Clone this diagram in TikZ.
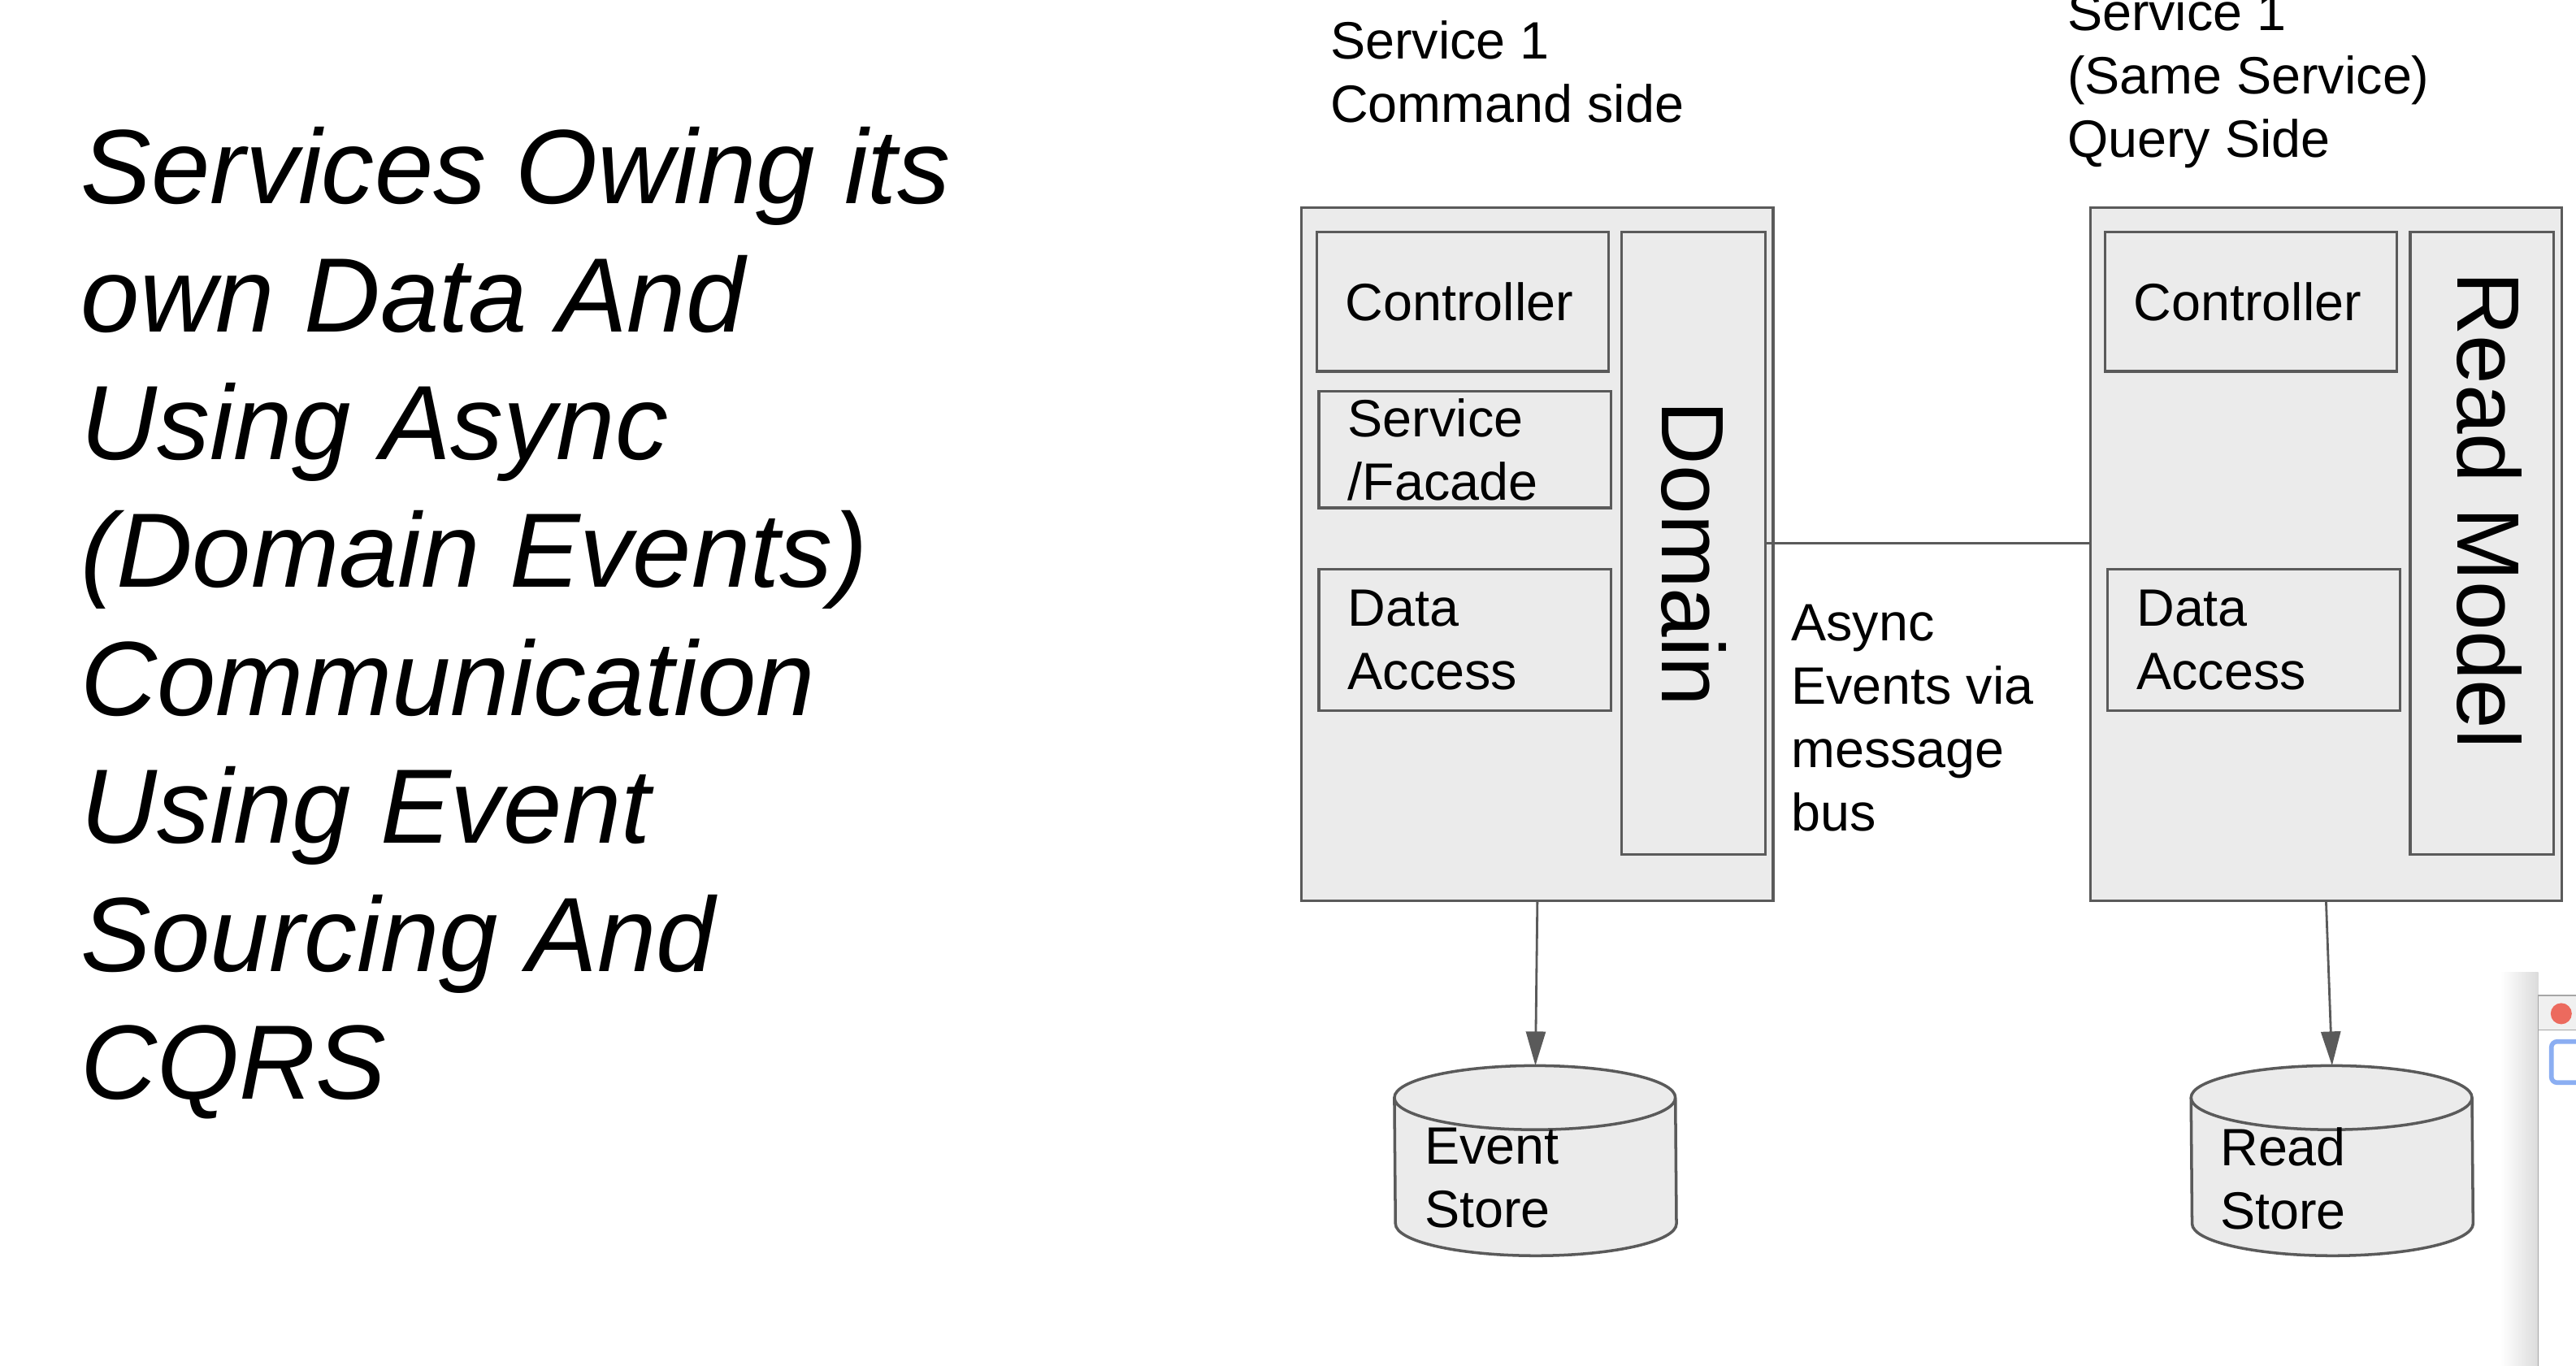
\documentclass[tikz,border=0pt]{standalone}
\usepackage{fontspec}
\setmainfont{Liberation Sans}
\usetikzlibrary{arrows.meta,positioning,calc}
\definecolor{boxfill}{HTML}{EBEBEB}
\definecolor{boxline}{HTML}{5A5A5A}
\definecolor{dotred}{HTML}{EC6A5E}
\definecolor{fieldblue}{HTML}{8BAEF2}
\newcommand{\dpx}{0.02022cm}
\tikzset{
    box/.style={draw=boxline, fill=boxfill, line width=0.9pt, inner sep=0pt},
    txt/.style={font=\fontsize{18.4}{22.2}\selectfont, align=left, inner sep=0pt},
    bigtxt/.style={font=\fontsize{31}{36}\selectfont, inner sep=0pt},
    drum/.style={draw=boxline, fill=boxfill, line width=1pt},
    link/.style={draw=boxline, line width=0.8pt},
    flow/.style={link, -{Triangle[length=4.2mm,width=2.4mm]}}
}

\begin{document}
\begin{tikzpicture}[x=\dpx, y=-\dpx]
\useasboundingbox (0,0) rectangle (1568,831);
\clip (0,0) rectangle (1568,831);
\fill[white] (0,0) rectangle (1568,831);

% title
\node[anchor=north west, inner sep=0pt, align=left, font=\fontsize{37}{44.8}\selectfont\itshape] (title) at (49,77) {Services Owing its\\own Data And\\Using Async\\(Domain Events)\\Communication\\Using Event\\Sourcing And\\CQRS};

% headers
\node[txt, anchor=north west] (cmdhead) at (809.5,12.4) {Service 1\\Command side};
\node[txt, anchor=north west] (qryhead) at (1258,-5) {Service 1\\(Same Service)\\Query Side};

% command side
\node[box, anchor=north west, minimum width=287*\dpx, minimum height=422*\dpx] (cmdside) at (791.5,125.5) {};
\node[box, txt, anchor=north west, text width=2.88cm, minimum width=177.7*\dpx, minimum height=85*\dpx] (ctrlA) at (800.6,140.3) {Controller};
\node[box, txt, anchor=north west, text width=2.88cm, minimum width=177.8*\dpx, minimum height=71*\dpx] (facade) at (802,237.4) {Service\\/Facade};
\node[box, txt, anchor=north west, text width=2.88cm, minimum width=177.8*\dpx, minimum height=86*\dpx] (dataA) at (802,345.6) {Data\\Access};
\node[box, anchor=north west, minimum width=87.5*\dpx, minimum height=379*\dpx] (domain) at (986.3,140.3) {};
\node[bigtxt, rotate=-90] (domaintxt) at ($(domain.center)+(0,6.5)$) {Domain};

% query side
\node[box, anchor=north west, minimum width=287*\dpx, minimum height=422*\dpx] (qryside) at (1271.6,125.5) {};
\node[box, txt, anchor=north west, text width=2.88cm, minimum width=177.5*\dpx, minimum height=85*\dpx] (ctrlB) at (1280.5,140.3) {Controller};
\node[box, txt, anchor=north west, text width=2.88cm, minimum width=178*\dpx, minimum height=86*\dpx] (dataB) at (1282,345.6) {Data\\Access};
\node[box, anchor=north west, minimum width=87.3*\dpx, minimum height=379*\dpx] (readmodel) at (1466.3,140.3) {};
\node[bigtxt, rotate=-90] (readmodeltxt) at ($(readmodel.center)+(4.5,-20)$) {Read Model};

% message bus
\draw[link] (domain.east) -- (domain.east -| qryside.west);
\node[txt, anchor=north west] (bus) at (1090,367.5) {Async\\Events via\\message\\bus};

% stores
\node[minimum width=171*\dpx, minimum height=115*\dpx, inner sep=0pt] (evstore) at (934.6,706.5) {};
\node[minimum width=171*\dpx, minimum height=115*\dpx, inner sep=0pt] (rdstore) at (1419.5,706.5) {};
\path[drum] ([yshift=-0.394cm]evstore.north west) arc[start angle=180, end angle=0, x radius=1.729cm, y radius=0.394cm] -- ([yshift=0.394cm]evstore.south east) arc[start angle=0, end angle=-180, x radius=1.729cm, y radius=0.394cm] -- cycle;
\draw[drum, fill=none] ([yshift=-0.394cm]evstore.north west) arc[start angle=180, end angle=360, x radius=1.729cm, y radius=0.394cm];
\path[drum] ([yshift=-0.394cm]rdstore.north west) arc[start angle=180, end angle=0, x radius=1.729cm, y radius=0.394cm] -- ([yshift=0.394cm]rdstore.south east) arc[start angle=0, end angle=-180, x radius=1.729cm, y radius=0.394cm] -- cycle;
\draw[drum, fill=none] ([yshift=-0.394cm]rdstore.north west) arc[start angle=180, end angle=360, x radius=1.729cm, y radius=0.394cm];
\node[txt, anchor=north west] (evtxt) at ($(evstore.north west)+(18,37.6)$) {Event\\Store};
\node[txt, anchor=north west] (rdtxt) at ($(rdstore.north west)+(17.5,37.6)$) {Read\\Store};

\draw[flow] (cmdside.south) -- (evstore.north);
\draw[flow] (qryside.south) -- (rdstore.north);

% window edge
\shade[left color=white, right color=black!14] (1522,592) rectangle (1545,831);
\draw[fill=white, draw=black!35] (1545,606) rectangle (1580,840);
\draw[fill=black!6, draw=black!35] (1545,606) rectangle (1580,627);
\fill[dotred] (1559,617) circle[radius=0.13cm];
\draw[fieldblue, line width=1.6pt, fill=white, rounded corners=2pt] (1553,634) rectangle (1585,659);
\end{tikzpicture}
\end{document}
